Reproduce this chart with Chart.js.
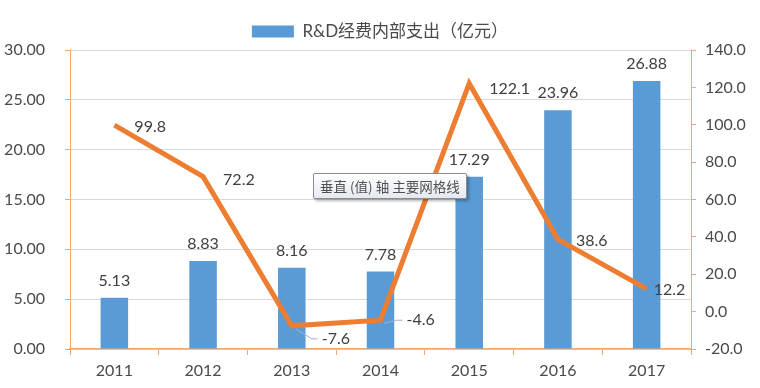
<!DOCTYPE html>
<html>
<head>
<meta charset="utf-8">
<script src="https://cdn.jsdelivr.net/npm/chart.js@4.4.1/dist/chart.umd.min.js"></script>
<style>
  html, body { margin: 0; padding: 0; background: #fff; }
  #wrap { position: relative; width: 760px; height: 388px; }
  #tip {
    position: absolute; left: 313px; top: 173px;
    padding: 2px 6px; border: 1px solid #8c8c8c; border-radius: 2px;
    background: linear-gradient(#ffffff, #e4e9f2);
    box-shadow: 2px 2px 3px rgba(0,0,0,0.3);
    font: 13.5px 'Noto Sans CJK SC', sans-serif; color: #505050; white-space: nowrap;
  }
</style>
</head>
<body>
<div id="wrap">
  <canvas id="myChart" width="760" height="388"></canvas>
  <div id="tip">垂直 (值) 轴 主要网格线</div>
</div>
<script>
'use strict';
let years = ['2011', '2012', '2013', '2014', '2015', '2016', '2017'];
let spending = [5.13, 8.83, 8.16, 7.78, 17.29, 23.96, 26.88];
let growth = [99.8, 72.2, -7.6, -4.6, 122.1, 38.6, 12.2];
let barLabel = 'R&D经费内部支出（亿元）';
let growthLabel = '增长率';

// where each growth label sits relative to its point
let growthOffsets = [[20, 2], [20, 3], [30, 13], [26, 0], [20, 5], [18, 1], [7, 1]];

let fontFamily = "Lato, 'Noto Sans CJK SC', sans-serif";
let orangeAxis = '#F0A870';
let textColor = '#4a4a4a';

let labelPlugin = {
    id: 'valueLabels',
    afterDatasetsDraw(chart) {
        let ctx = chart.ctx;
        ctx.save();
        ctx.font = '16px ' + fontFamily;
        ctx.fillStyle = '#404040';
        ctx.textBaseline = 'middle';

        let barMeta = chart.getDatasetMeta(0);
        ctx.textAlign = 'center';
        barMeta.data.forEach(function (bar, i) {
            ctx.fillText(spending[i].toFixed(2), bar.x, bar.y - 17);
        });

        let lineMeta = chart.getDatasetMeta(1);
        ctx.textAlign = 'left';
        lineMeta.data.forEach(function (pt, i) {
            let dx = growthOffsets[i][0];
            let dy = growthOffsets[i][1];
            if (growth[i] < 0) {
                ctx.strokeStyle = '#9DB3CF';
                ctx.lineWidth = 1;
                ctx.beginPath();
                ctx.moveTo(pt.x + 4, pt.y + 3);
                ctx.lineTo(pt.x + dx - 10, pt.y + dy);
                ctx.lineTo(pt.x + dx - 4, pt.y + dy);
                ctx.stroke();
            }
            ctx.fillText(growth[i].toFixed(1), pt.x + dx, pt.y + dy);
        });
        ctx.restore();
    }
};

let ctx = document.getElementById('myChart').getContext('2d');
let chart = new Chart(ctx, {
    type: 'bar',
    data: {
        labels: years,
        datasets: [
            {
                label: barLabel,
                data: spending,
                backgroundColor: '#5B9BD5',
                barPercentage: 0.31,
                categoryPercentage: 1,
                yAxisID: 'y',
                order: 2
            },
            {
                type: 'line',
                label: growthLabel,
                data: growth,
                borderColor: '#ED7D31',
                borderWidth: 5,
                pointRadius: 0,
                tension: 0,
                yAxisID: 'y1',
                order: 1
            }
        ]
    },
    options: {
        responsive: false,
        animation: false,
        layout: { padding: { top: 7, right: 0, left: 0, bottom: 0 } },
        plugins: {
            legend: {
                labels: {
                    filter: function (item) { return item.datasetIndex === 0; },
                    boxWidth: 42,
                    boxHeight: 12,
                    color: textColor,
                    font: { size: 17, family: fontFamily },
                    padding: 16
                }
            },
            tooltip: { enabled: false }
        },
        scales: {
            x: {
                grid: {
                    drawOnChartArea: false,
                    tickColor: orangeAxis,
                    tickLength: 6
                },
                border: { color: orangeAxis, width: 1.5 },
                ticks: { color: textColor, font: { size: 16, family: fontFamily }, padding: 6 },
                afterFit: function (scale) { scale.height = 39; }
            },
            y: {
                position: 'left',
                min: 0,
                max: 30,
                grid: { color: '#D9D9D9', tickColor: orangeAxis, tickLength: 5 },
                border: { color: orangeAxis },
                ticks: {
                    stepSize: 5,
                    color: textColor,
                    font: { size: 16, family: fontFamily },
                    padding: 20,
                    callback: function (v) { return v.toFixed(2); }
                },
                afterFit: function (scale) { scale.width = 70; }
            },
            y1: {
                position: 'right',
                min: -20,
                max: 140,
                grid: { drawOnChartArea: false, tickColor: orangeAxis, tickLength: 5 },
                border: { color: orangeAxis },
                ticks: {
                    stepSize: 20,
                    color: textColor,
                    font: { size: 16, family: fontFamily },
                    padding: 9,
                    callback: function (v) { return v.toFixed(1); }
                },
                afterFit: function (scale) { scale.width = 69; }
            }
        }
    },
    plugins: [labelPlugin]
});
</script>
</body>
</html>
